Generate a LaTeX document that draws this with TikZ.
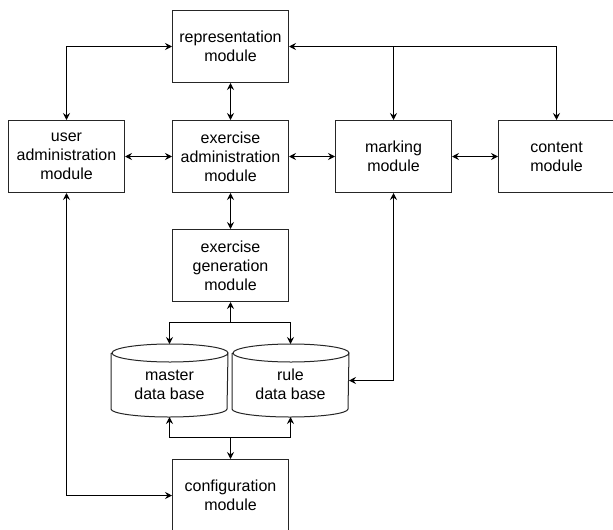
\documentclass[tikz,border=0pt]{standalone}
\usepackage{fontspec}
\setmainfont{Liberation Sans}
\usetikzlibrary{arrows.meta}

% outline of a data base drum round a named node
\newcommand{\dbdrum}[1]{
	\draw [draw=black!85]
		([yshift=-9pt]#1.north west) -- ([yshift=8pt]#1.south west)
		arc [start angle=180, end angle=360, x radius=58pt, y radius=8pt]
		-- ([yshift=-9pt]#1.north east)
		arc [start angle=0, end angle=360, x radius=58pt, y radius=9pt];
}

\begin{document}
\begin{tikzpicture}	[
		x = 1pt,
		y = -1pt,
		line width = 1pt,
		>={Stealth[length=7pt,width=7pt,inset=2.5pt]},
		m/.style = {
			draw = black!85,
			rectangle,
			align = center,
			inner sep = 0pt,
			minimum width = 116pt,
			minimum height = 72pt,
			font = \fontsize{16}{19}\selectfont
		},
		db/.style = {
			rectangle,
			inner sep = 0pt,
			minimum width = 116pt,
			minimum height = 72pt
		},
		t/.style = {
			align = center,
			font = \fontsize{16}{19}\selectfont
		}
	]
	\clip (0,0) rectangle (613,530);

	\node [m] (rep) at (230.5,46.5) {representation\\module};

	\node [m] (user) at (66.5,156.5) {user\\administration\\module};
	\node [m] (exadm) at (230.5,156.5) {exercise\\administration\\module};
	\node [m] (mark) at (393.5,156.5) {marking\\module};
	\node [m] (cont) at (556.5,156.5) {content\\module};

	\node [m] (gen) at (230.5,265.5) {exercise\\generation\\module};

	\node [db] (master) at (169.5,380.5) {};
	\dbdrum{master}
	\node [t] (mastert) at (169.5,384.5) {master\\data base};
	\node [db] (rule) at (290.5,380.5) {};
	\dbdrum{rule}
	\node [t] (rulet) at (290.5,384.5) {rule\\data base};

	\node [m] (conf) at (230.5,495.5) {configuration\\module};

	\coordinate (gfork) at (230.5,322.5);
	\coordinate (cfork) at (230.5,437.5);

	% top row
	\draw [<->] (rep.west) -| (user.north);
	\draw [<->] (rep.east) -| (cont.north);
	\draw [->] (mark.north |- rep.east) -- (mark.north);
	\draw [<->] (rep.south) -- (exadm.north);

	% middle row
	\draw [<->] (user.east) -- (exadm.west);
	\draw [<->] (exadm.east) -- (mark.west);
	\draw [<->] (mark.east) -- (cont.west);
	\draw [<->] (exadm.south) -- (gen.north);

	% data bases
	\draw [->] (gfork) -- (gen.south);
	\draw [<->] (master.north) |- (gfork) -| (rule.north);
	\draw [<->] (rule.east) -| (mark.south);

	\draw [<->] (master.south) |- (cfork) -| (rule.south);
	\draw [->] (cfork) -- (conf.north);
	\draw [<->] (user.south) |- (conf.west);
\end{tikzpicture}
\end{document}
